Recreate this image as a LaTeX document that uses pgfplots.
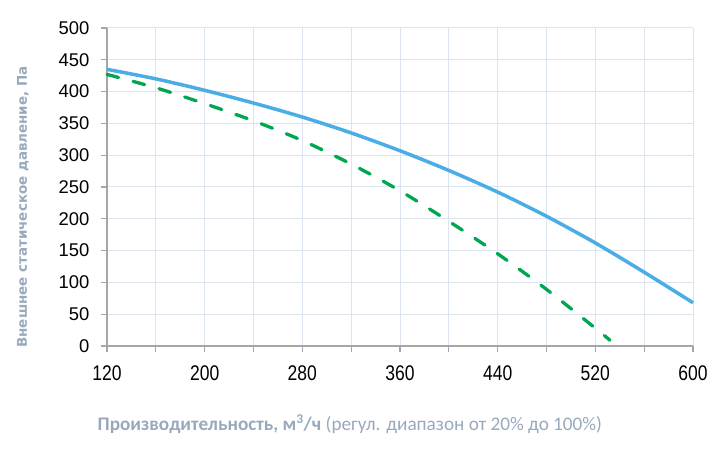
\documentclass[border=0pt]{standalone}
\usepackage{pgfplots}
\pgfplotsset{compat=1.18}
\usepackage{fontspec}
\setmainfont{Liberation Sans}
\newfontfamily\carlito{Carlito}
\newfontfamily\dejavu{DejaVu Sans}
\definecolor{curveblue}{HTML}{4BADE6}
\definecolor{curvegreen}{HTML}{00A651}
\definecolor{gridc}{HTML}{DCE4F0}
\definecolor{axisc}{HTML}{A6A6A6}
\definecolor{labelc}{HTML}{98A9BC}
\begin{document}
\begin{tikzpicture}[x=1bp,y=1bp]
\useasboundingbox (0,0) rectangle (727,453);
\begin{axis}[
  at={(107bp,107bp)}, anchor=south west,
  scale only axis, width=586bp, height=318bp,
  xmin=120, xmax=600, ymin=0, ymax=500,
  xtick={120,160,...,600},
  xticklabels={120,,200,,280,,360,,440,,520,,600},
  ytick={0,50,...,500},
  grid=major,
  major grid style={color=gridc, line width=1bp},
  axis x line*=bottom, axis y line*=left,
  axis line style={color=axisc, line width=1.5bp, -},
  tick style={color=axisc, line width=1.2bp},
  tick align=outside, major tick length=6bp,
  /pgf/number format/assume math mode=true,
  ticklabel style={font=\fontsize{18.5}{20}\selectfont, text=black},
  xticklabel style={yshift=-10bp, yscale=1.15, xscale=0.95},
  yticklabel style={xshift=-8bp},
  clip=false,
]
\addplot[curveblue, line width=3.5bp, smooth] coordinates {
 (120,435) (160,420) (200,402) (240,382) (280,360) (320,335) (360,307)
 (400,276) (440,242) (480,204) (520,162) (560,116) (600,68)
};
\addplot[curvegreen, line width=3.3bp, smooth, dash pattern=on 12bp off 15bp, line cap=round] coordinates {
 (120,427) (160,406) (200,381) (240,354) (280,323) (320,286) (360,244)
 (400,196) (440,145) (480,89) (520,28) (532,9)
};
\end{axis}
\node[rotate=90, anchor=center, text=labelc, font=\dejavu\bfseries\fontsize{13.5}{16}\selectfont] at (23,246) {Внешнее статическое давление, Па};
\node[anchor=base west, text=labelc, inner sep=0pt, font=\carlito\fontsize{19.3}{22}\selectfont] at (97.5,22) {\textbf{Производительность, м\textsuperscript{3}/ч} (регул. диапазон от 20\% до 100\%)};
\end{tikzpicture}
\end{document}
